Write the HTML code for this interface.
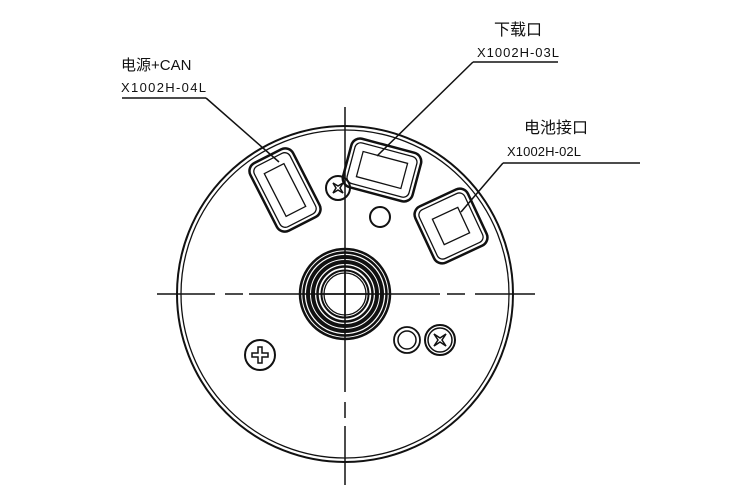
<!DOCTYPE html>
<html><head><meta charset="utf-8"><style>
html,body{margin:0;padding:0;background:#fff;}
svg{display:block;}
text{font-family:"Liberation Sans","Noto Sans CJK SC",sans-serif;fill:#111;}
</style></head><body>
<svg width="750" height="500" viewBox="0 0 750 500" xmlns="http://www.w3.org/2000/svg">
<g fill="none" stroke="#111">
<circle cx="345" cy="294" r="168" stroke-width="2"/>
<circle cx="345" cy="294" r="164" stroke-width="1.3"/>
<g stroke-width="1.5">
<line x1="157" y1="294" x2="215" y2="294"/>
<line x1="225" y1="294" x2="243" y2="294"/>
<line x1="249" y1="294" x2="440" y2="294"/>
<line x1="447" y1="294" x2="465" y2="294"/>
<line x1="475" y1="294" x2="535" y2="294"/>
<line x1="345" y1="107" x2="345" y2="392"/>
<line x1="345" y1="402" x2="345" y2="418"/>
<line x1="345" y1="426" x2="345" y2="485"/>
</g>
<!-- hub -->
<circle cx="345" cy="294" r="45" stroke-width="2.5"/>
<circle cx="345" cy="294" r="41.5" stroke-width="2.5"/>
<circle cx="345" cy="294" r="37" stroke-width="4"/>
<circle cx="345" cy="294" r="32" stroke-width="4"/>
<circle cx="345" cy="294" r="27.5" stroke-width="2.5"/>
<circle cx="345" cy="294" r="23.5" stroke-width="2"/>
<circle cx="345" cy="294" r="21" stroke-width="1.3"/>
<line x1="320" y1="294" x2="370" y2="294" stroke-width="1.5"/>
<line x1="345" y1="270" x2="345" y2="318" stroke-width="1.5"/>
<g transform="translate(285,190) rotate(-27)">
<rect x="-24" y="-38" width="48" height="76" rx="9" stroke-width="2.5"/>
<rect x="-20" y="-34" width="40" height="68" rx="6" stroke-width="1.3"/>
<rect x="-11" y="-24" width="22" height="48" stroke-width="1.3"/>
</g>
<g transform="translate(382,170) rotate(15)">
<rect x="-36" y="-25" width="72" height="50" rx="9" stroke-width="2.5"/>
<rect x="-32" y="-21" width="64" height="42" rx="6" stroke-width="1.3"/>
<rect x="-23" y="-13" width="46" height="26" stroke-width="1.3"/>
</g>
<g transform="translate(451,226) rotate(-25)">
<rect x="-29" y="-31" width="58" height="62" rx="9" stroke-width="2.5"/>
<rect x="-25" y="-27" width="50" height="54" rx="6" stroke-width="1.3"/>
<rect x="-14" y="-14" width="28" height="28" stroke-width="1.3"/>
</g>
<circle cx="338" cy="188" r="12" stroke-width="2"/>
<path d="M333,183 L338,186 L343,183 L340,188 L343,193 L338,190 L333,193 L336,188 Z" stroke-width="1.5"/>
<circle cx="380" cy="217" r="10" stroke-width="2"/>
<circle cx="260" cy="355" r="15" stroke-width="2"/>
<path d="M258,347 h4 v6 h6 v4 h-6 v6 h-4 v-6 h-6 v-4 h6 z" stroke-width="1.5"/>
<circle cx="407" cy="340" r="13" stroke-width="1.8"/>
<circle cx="407" cy="340" r="9" stroke-width="1.5"/>
<circle cx="440" cy="340" r="15" stroke-width="2"/>
<circle cx="440" cy="340" r="12" stroke-width="1.5"/>
<path d="M434,334 L440,338 L446,334 L442,340 L446,346 L440,342 L434,346 L438,340 Z" stroke-width="1.5"/>
<g stroke-width="1.5">
<line x1="122" y1="98" x2="206" y2="98"/>
<line x1="206" y1="98" x2="279" y2="162"/>
<line x1="473" y1="62" x2="558" y2="62"/>
<line x1="473" y1="62" x2="377" y2="156"/>
<line x1="503" y1="163" x2="640" y2="163"/>
<line x1="503" y1="163" x2="461" y2="212"/>
</g>
</g>
<text x="121" y="70" font-size="15">电源+CAN</text>
<text x="121" y="92" font-size="13" textLength="85">X1002H-04L</text>
<text x="494" y="35" font-size="16">下载口</text>
<text x="477" y="57" font-size="13" textLength="82">X1002H-03L</text>
<text x="524" y="133" font-size="16">电池接口</text>
<text x="507" y="156" font-size="13" textLength="74">X1002H-02L</text>
</svg>
</body></html>
